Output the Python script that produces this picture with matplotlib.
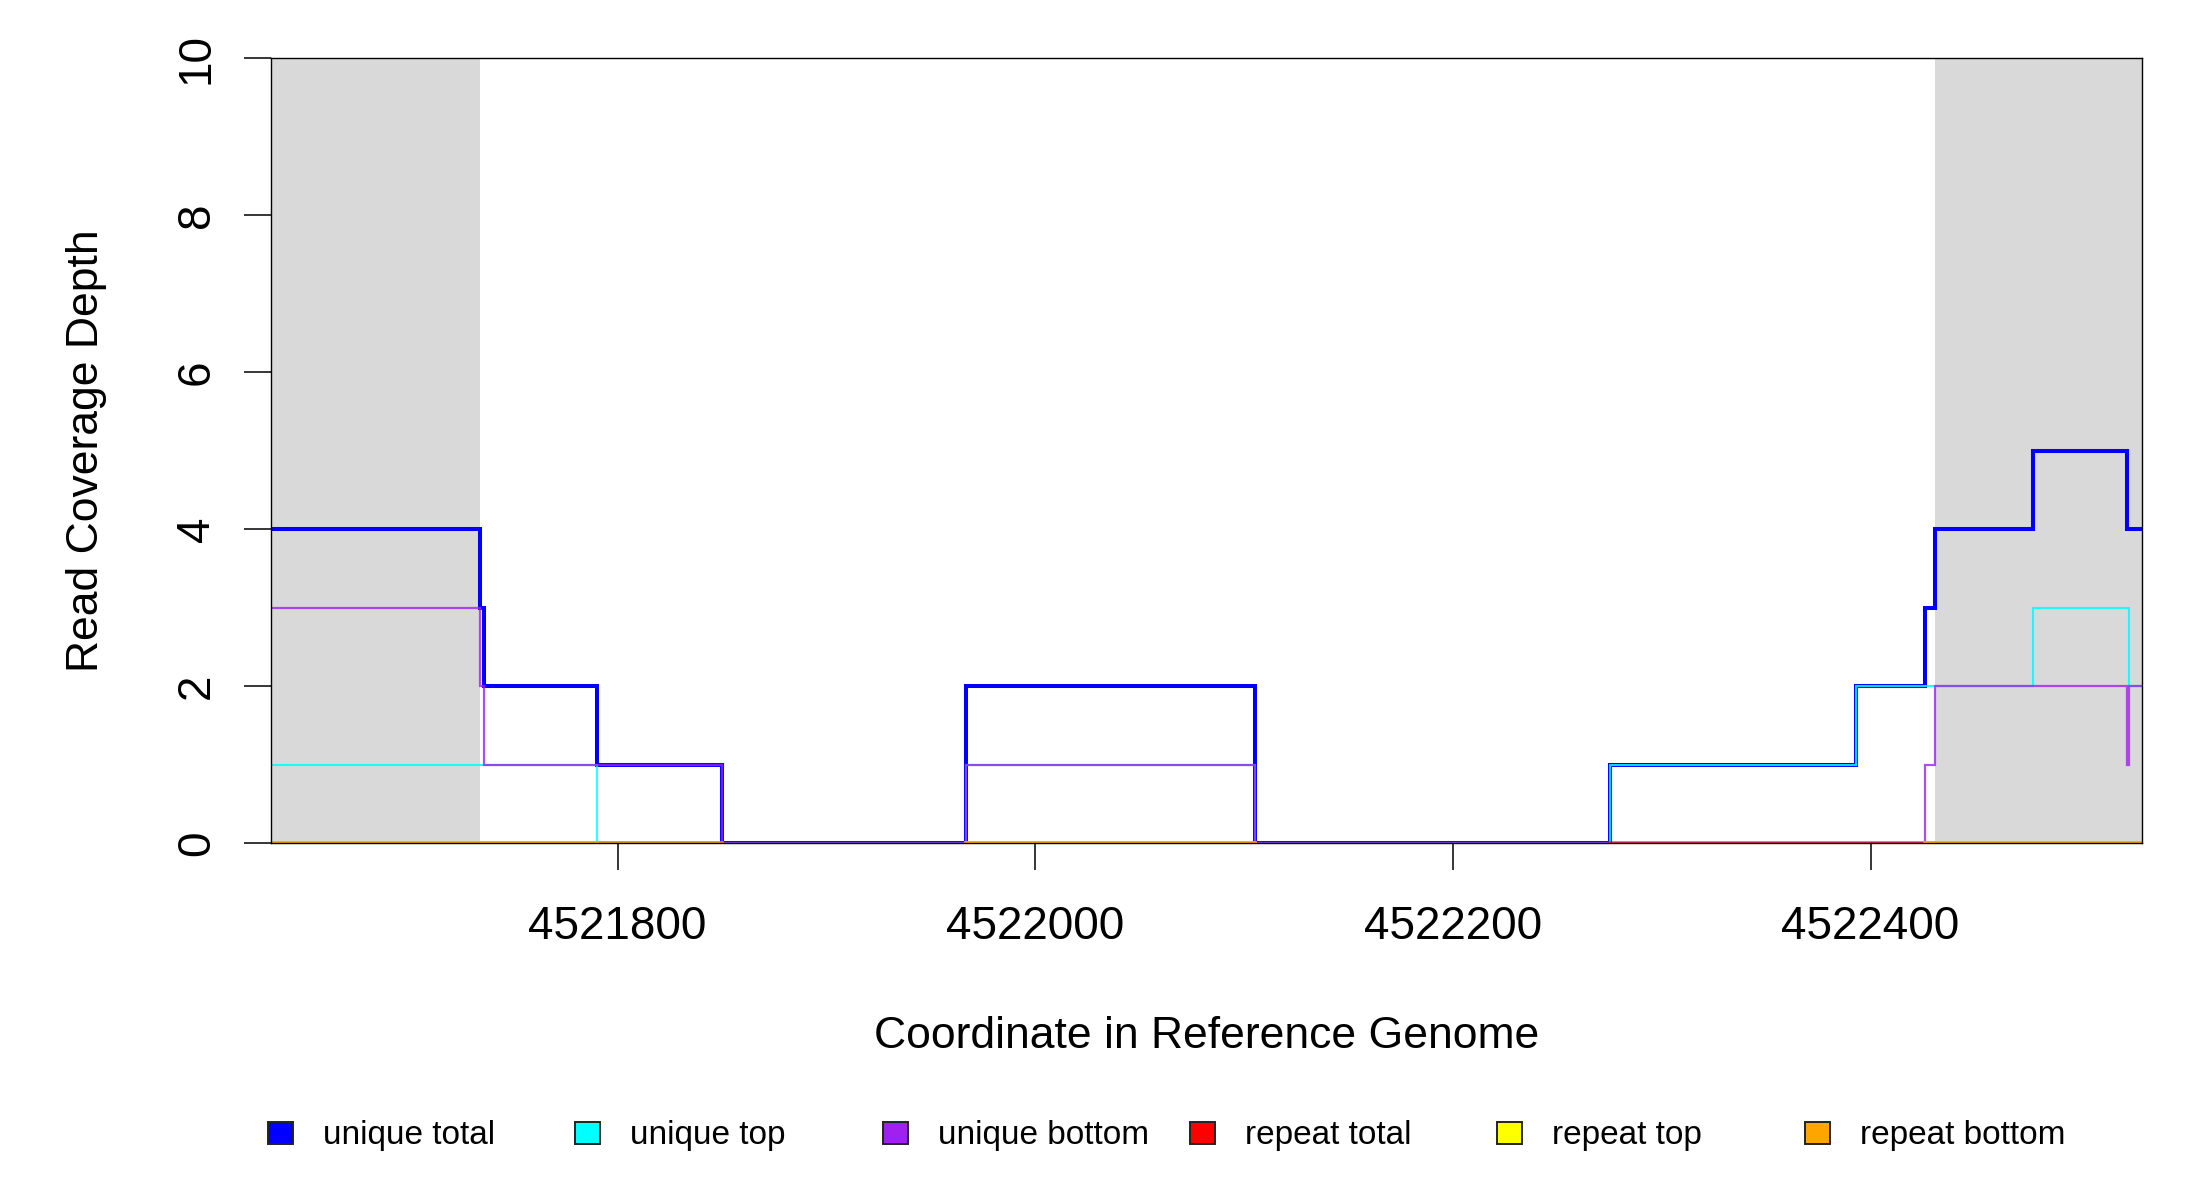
import numpy as np
import matplotlib
matplotlib.use("Agg")
import matplotlib.pyplot as plt
from matplotlib.patches import Rectangle
from matplotlib.ticker import FixedLocator, FuncFormatter

plt.rcParams['font.family'] = ['Liberation Sans', 'DejaVu Sans']

# ---- data ----
positions = [4521634, 4521734, 4521736, 4521790, 4521850, 4521967, 4522105,
             4522275, 4522393, 4522426, 4522431, 4522478, 4522523, 4522524, 4522530]
unique_total  = [4, 3, 2, 1, 0, 2, 0, 1, 2, 3, 4, 5, 4, 4, 4]
unique_top    = [1, 1, 1, 0, 0, 1, 0, 1, 2, 2, 2, 3, 3, 2, 2]
unique_bottom = [3, 2, 1, 1, 0, 1, 0, 0, 0, 1, 2, 2, 1, 2, 2]
nan = np.nan
repeat_total  = [0, 0, 0, 0, nan, 0, nan, 0, 0, 0, 0, 0, 0, 0, 0]
repeat_top    = [0, 0, 0, nan, nan, 0, nan, nan, nan, 0, 0, 0, 0, 0, 0]
repeat_bottom = [0, 0, 0, 0, nan, 0, nan, nan, nan, 0, 0, 0, 0, 0, 0]

flank_regions = [(4521634, 4521734), (4522431, 4522530)]
x_ticks = [4521800, 4522000, 4522200, 4522400]
y_ticks = [0, 2, 4, 6, 8, 10]
x_range = (4521634, 4522530)
y_range = (0, 10)

series_labels = ["unique total", "unique top", "unique bottom",
                 "repeat total", "repeat top", "repeat bottom"]
series_colors = ["#0000FF", "#00FFFF", "#A020F0", "#FF0000", "#FFFF00", "#FFA500"]
series_values = [unique_total, unique_top, unique_bottom,
                 repeat_total, repeat_top, repeat_bottom]
series_widths = [2.9, 1.5, 1.6, 2.6, 2.6, 2.6]
series_alpha = [1.0, 0.85, 0.8, 0.6, 0.6, 0.8]

# ---- figure ----
W, H = 2200, 1200
fig = plt.figure(figsize=(22, 12), dpi=100)
L, R, T, B = 271, 2142, 58, 843
ax = fig.add_axes([L / W, 1 - B / H, (R - L) / W, (B - T) / H])

for (a, b) in flank_regions:
    ax.axvspan(a, b, color="#D9D9D9", lw=0, zorder=0)

for vals, col, lw, al in zip(series_values, series_colors, series_widths, series_alpha):
    ax.step(positions, vals, where="post", color=col, lw=lw, alpha=al,
            solid_joinstyle="miter", zorder=2)

ax.set_xlim(*x_range)
ax.set_ylim(*y_range)

ax.xaxis.set_major_locator(FixedLocator(x_ticks))
ax.xaxis.set_major_formatter(FuncFormatter(lambda v, p: f"{int(v)}"))
ax.yaxis.set_major_locator(FixedLocator(y_ticks))
ax.yaxis.set_major_formatter(FuncFormatter(lambda v, p: f"{int(v)}"))

ax.tick_params(axis="both", length=19.5, width=1.1, labelsize=33, color="black")
ax.tick_params(axis="x", pad=25)
ax.tick_params(axis="y", pad=18)
for lab in ax.get_yticklabels():
    lab.set_rotation(90)
    lab.set_va("center")

for s in ax.spines.values():
    s.set_linewidth(1.0)
    s.set_color("black")

fig.text(87 / W, 1 - 451 / H, "Read Coverage Depth", rotation=90,
         ha="center", va="center", fontsize=32)
fig.text((L + R) / 2 / W, 1 - 1036 / H, "Coordinate in Reference Genome",
         ha="center", va="center", fontsize=32)

# ---- legend ----
box_x0, text_x0, step = 268, 323, 307.3
for i, (lab, col) in enumerate(zip(series_labels, series_colors)):
    bx = box_x0 + i * step
    fig.patches.append(Rectangle((bx / W, 1 - 1144 / H), 25 / W, 22 / H,
                                 transform=fig.transFigure, facecolor=col,
                                 edgecolor="#222222", lw=1.4))
    fig.text((text_x0 + i * step) / W, 1 - 1144 / H, lab, ha="left",
             va="baseline", fontsize=24)

fig.savefig("out.png", dpi=100)
